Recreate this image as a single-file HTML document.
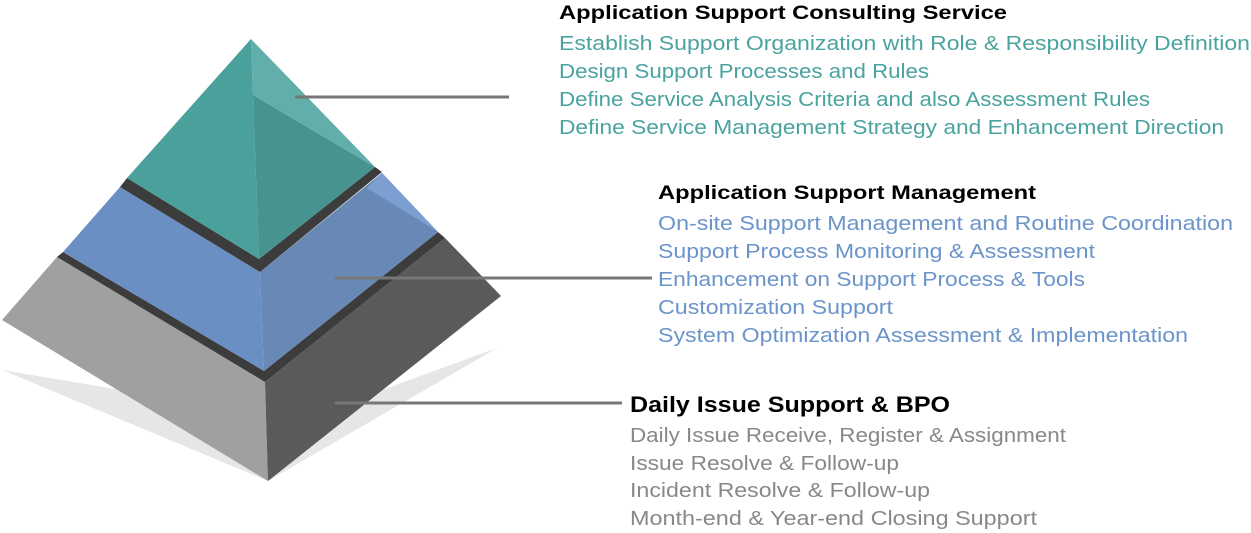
<!DOCTYPE html>
<html><head><meta charset="utf-8"><style>html,body{margin:0;padding:0;background:#fff;}svg{display:block}</style></head>
<body>
<svg width="1251" height="533" viewBox="0 0 1251 533" xmlns="http://www.w3.org/2000/svg" font-family="Liberation Sans, sans-serif">
<!-- shadow -->
<polygon points="2,370 268,481 497,348 300,420" fill="#e6e6e6"/>
<!-- bottom layer -->
<polygon points="2,320 57,257 265,382 268,481" fill="#a0a0a0"/>
<polygon points="265,382 445,238 501,296 268,481" fill="#5a5a5a"/>
<!-- band 2 -->
<polygon points="63,252 264,371 438,232 445,238 265,382 57,257" fill="#3c3c3c"/>
<!-- middle layer -->
<polygon points="120,187 260,272 264,371 63,252" fill="#6a8fc2"/>
<polygon points="260,272 382,173 438,232 264,371" fill="#6889b6"/>
<polygon points="367,188 382,173 438,232 430,227" fill="#7b9fd0"/>
<!-- band 1 -->
<polygon points="127,178 259,259 375,167 382,172 260,272 120,187" fill="#3c3c3c"/>
<!-- top layer -->
<polygon points="251,39 253,95 259,259 127,178" fill="#4aa19c"/>
<polygon points="253,95 375,167 259,259" fill="#46938f"/>
<polygon points="251,39 375,167 253,95" fill="#62aeaa"/>
<!-- leaders -->
<line x1="295" y1="97" x2="509" y2="97" stroke="#777" stroke-width="3"/>
<line x1="335" y1="278" x2="652" y2="278" stroke="#777" stroke-width="3"/>
<line x1="335" y1="403" x2="622" y2="403" stroke="#777" stroke-width="3"/>
<!-- block 1 -->
<text x="559" y="19" font-size="19" font-weight="bold" fill="#000" textLength="448" lengthAdjust="spacingAndGlyphs">Application  Support Consulting Service</text>
<g font-size="20" fill="#4aa39f">
<text x="559" y="50" textLength="691" lengthAdjust="spacingAndGlyphs">Establish Support Organization with Role &amp; Responsibility Definition</text>
<text x="559" y="78" textLength="370" lengthAdjust="spacingAndGlyphs">Design Support Processes and Rules</text>
<text x="559" y="106" textLength="591" lengthAdjust="spacingAndGlyphs">Define Service Analysis Criteria and also Assessment Rules</text>
<text x="559" y="134" textLength="665" lengthAdjust="spacingAndGlyphs">Define Service Management Strategy and Enhancement Direction</text>
</g>
<!-- block 2 -->
<text x="658" y="199" font-size="19" font-weight="bold" fill="#000" textLength="378" lengthAdjust="spacingAndGlyphs">Application  Support Management</text>
<g font-size="20" fill="#6b94cb">
<text x="658" y="230" textLength="575" lengthAdjust="spacingAndGlyphs">On-site Support Management and Routine Coordination</text>
<text x="658" y="258" textLength="437" lengthAdjust="spacingAndGlyphs">Support Process Monitoring &amp; Assessment</text>
<text x="658" y="286" textLength="427" lengthAdjust="spacingAndGlyphs">Enhancement on Support Process &amp; Tools</text>
<text x="658" y="314" textLength="235" lengthAdjust="spacingAndGlyphs">Customization Support</text>
<text x="658" y="342" textLength="530" lengthAdjust="spacingAndGlyphs">System Optimization Assessment &amp; Implementation</text>
</g>
<!-- block 3 -->
<text x="630" y="412" font-size="22" font-weight="bold" fill="#000" textLength="320" lengthAdjust="spacingAndGlyphs">Daily Issue Support &amp; BPO</text>
<g font-size="20" fill="#888">
<text x="630" y="442" textLength="436" lengthAdjust="spacingAndGlyphs">Daily Issue Receive, Register &amp; Assignment</text>
<text x="630" y="470" textLength="269" lengthAdjust="spacingAndGlyphs">Issue Resolve &amp; Follow-up</text>
<text x="630" y="497" textLength="300" lengthAdjust="spacingAndGlyphs">Incident Resolve &amp; Follow-up</text>
<text x="630" y="525" textLength="407" lengthAdjust="spacingAndGlyphs">Month-end &amp; Year-end Closing Support</text>
</g>
</svg>
</body></html>
